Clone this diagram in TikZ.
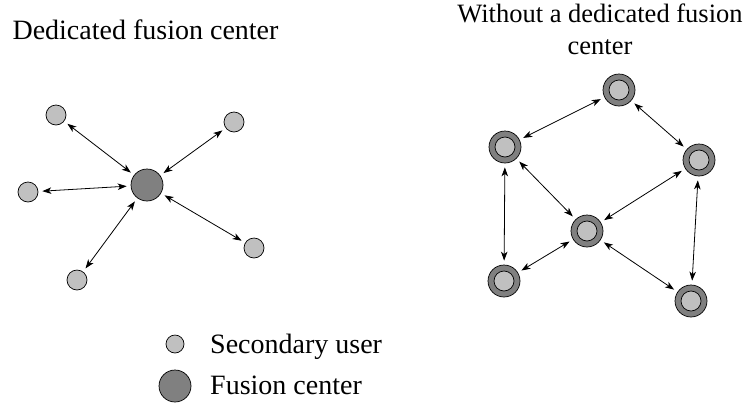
\documentclass[tikz,border=0pt]{standalone}
\usepackage{fontspec}
\setmainfont{Liberation Serif}
\usetikzlibrary{arrows.meta}
\definecolor{suLight}{HTML}{C0C0C0}
\definecolor{fcDark}{HTML}{808080}
\begin{document}
\begin{tikzpicture}[x=1pt,y=-1pt,
  su/.style={circle,draw=black,line width=0.7pt,fill=suLight,minimum size=20pt,inner sep=0pt},
  fc/.style={circle,draw=black,line width=0.7pt,fill=fcDark,minimum size=32pt,inner sep=0pt},
  peer/.style={circle,draw=black,line width=0.7pt,fill=fcDark,minimum size=32pt,inner sep=0pt,
    path picture={\draw[line width=0.7pt,fill=suLight] (path picture bounding box.center) circle (10pt);}},
  link/.style={line width=0.8pt,{Stealth[length=9pt,width=6.5pt,inset=2.5pt]}-{Stealth[length=9pt,width=6.5pt,inset=2.5pt]},shorten <=4pt,shorten >=4pt},
  lbl/.style={font=\fontsize{28}{34}\selectfont,inner sep=0pt}
]
\useasboundingbox (0,0) rectangle (752,405);

% titles
\node[lbl,anchor=base] (t1) at (145.5,39) {Dedicated fusion center};
\node[lbl,font=\fontsize{26.5}{32}\selectfont,anchor=base,align=center] (t2) at (600,54) {Without a dedicated fusion\\center};

% left: centralized
\node[fc] (F) at (147,185) {};
\node[su] (a) at (56,115) {};
\node[su] (b) at (234,122) {};
\node[su] (c) at (28,192) {};
\node[su] (d) at (254,248) {};
\node[su] (e) at (77,280) {};
\foreach \n in {a,b,c,d,e} \draw[link] (\n) -- (F);

% right: distributed
\node[peer] (T) at (619,90) {};
\node[peer] (UL) at (505,147) {};
\node[peer] (R) at (699,160) {};
\node[peer] (C) at (587,231) {};
\node[peer] (BL) at (504,281) {};
\node[peer] (BR) at (691,301) {};
\draw[link] (T) -- (UL);
\draw[link] (T) -- (R);
\draw[link] (UL) -- (C);
\draw[link] (UL) -- (BL);
\draw[link] (R) -- (C);
\draw[link] (R) -- (BR);
\draw[link] (C) -- (BL);
\draw[link] (C) -- (BR);

% legend
\node[su,minimum size=18pt] (ls) at (175,344) {};
\node[fc] (lf) at (175,386) {};
\node[lbl,anchor=base west] (lst) at (210,353) {Secondary user};
\node[lbl,anchor=base west] (lft) at (210,394) {Fusion center};
\end{tikzpicture}
\end{document}
